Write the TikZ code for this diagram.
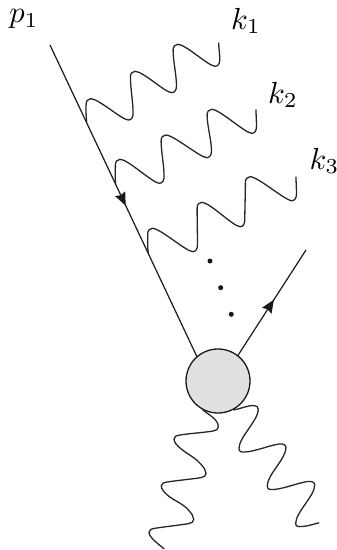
\documentclass[tikz,border=0pt]{standalone}
\usetikzlibrary{arrows.meta,decorations.markings}
\tikzset{
  ln/.style={line width=1.2pt,black!90},
  wv/.style={line width=1.3pt,black!85,line join=round},
  lbl/.style={scale=3.05,inner sep=0pt},
  dotmark/.style={circle,fill=black!90,inner sep=0pt,minimum size=5pt},
  blobnode/.style={circle,draw=black!90,line width=1.3pt,fill=black!12,minimum size=64pt,inner sep=0pt,outer sep=0pt},
  midarrow/.style={postaction={decorate},decoration={markings,mark=at position #1 with {\arrow{Stealth[length=13pt,width=11pt,inset=1.5pt]}}}}
}
% crest -> trough
\newcommand{\ct}[1]{.. controls +(8,0) and +(-7,-0.5) .. (#1)}
% trough -> crest (round turn, steep rise, round turn)
\newcommand{\tc}[2]{.. controls +(3.4,0) and +(0,4) .. ([shift={(4.8,-7)}]#1)
  .. controls +(0,-10) and +(0,10) .. ([shift={(-4.6,6)}]#2)
  .. controls +(0,-3.6) and +(-3,0) .. (#2)}
% upper photon: start, three crests, three troughs, end
\newcommand{\upwave}[8]{\draw[wv] (#1) .. controls +(-0.8,-4) and +(0,5) .. ([shift={(-4.6,6)}]#2)
  .. controls +(0,-3.6) and +(-3,0) .. (#2)
  \ct{#3} \tc{#3}{#4} \ct{#5} \tc{#5}{#6} \ct{#7}
  .. controls +(3.4,0) and +(0,4) .. ([shift={(4.8,-7)}]#7)
  .. controls +(0,-6) and +(0,6) .. (#8);}
% lower-left photon: right turn -> left turn
\newcommand{\lw}[2]{.. controls +(0,3) and +(3,-0.9) .. ([shift={(-5,4.3)}]#1)
  .. controls +(-9,1.5) and +(9,-1.5) .. ([shift={(6,-4)}]#2)
  .. controls +(-3.5,0.7) and +(0,-3) .. (#2)}
% lower-left photon: left turn -> next right turn
\newcommand{\ld}[2]{.. controls +(0,3) and +(-3,-2.5) .. ([shift={(6,9)}]#1)
  .. controls +(7,6) and +(-6,-7) .. ([shift={(-5,-9)}]#2)
  .. controls +(3,3.5) and +(0,-3) .. (#2)}
\begin{document}
\begin{tikzpicture}[x=1pt,y=-1pt]
\useasboundingbox (0,0) rectangle (337,550);
\node[blobnode] (blob) at (218,381) {};
\coordinate (pin) at (50,45);
\coordinate (pout) at (306,250);
\draw[ln,midarrow=0.515] (pin) -- (blob.131);
\draw[ln,midarrow=0.53] (blob.52) -- (pout);
\node[lbl] (lp) at (24,19) {$p_1$};
\node[lbl] (lk1) at (246,21) {$k_1$};
\node[lbl] (lk2) at (283,95) {$k_2$};
\node[lbl] (lk3) at (324.5,161) {$k_3$};
\node[dotmark] (d1) at (210,261) {};
\node[dotmark] (d2) at (220.7,287.7) {};
\node[dotmark] (d3) at (231.3,314.3) {};
\upwave{86.7,121.7}{90.7,98.7}{128.3,120}{135,71.3}{171.7,92.7}{177.7,44.3}{215,66.3}{218.7,42.7}
\upwave{115.7,183.3}{120,159.3}{159.3,183.3}{165.7,135}{206.7,157.7}{211.7,109.3}{251.7,133.3}{256,109.3}
\upwave{148.3,253.3}{152.3,228.3}{192.7,251.7}{201.7,202.3}{240,226.7}{250,176.7}{291.7,200.7}{296,176.7}
\draw[wv] (202.3,409.3) .. controls +(5,5) and +(0,-8) .. (218.3,426.7)
  \lw{218.3,426.7}{174,439}
  \ld{174,439}{206,473.3}
  \lw{206,473.3}{161.3,486}
  \ld{161.3,486}{193.7,519.3}
  \lw{193.7,519.3}{149,532.3}
  .. controls +(0,5) and +(-6,-5) .. (164.3,549);
\draw[wv] (233.3,410) .. controls +(10,-2) and +(-6,0) .. (253.5,405.5)
  .. controls +(3,0) and +(0,-2.5) .. (258.3,409.3)
  .. controls +(0,11) and +(0,-11) .. (239,448.3)
  .. controls +(0,3.5) and +(-4,0.3) .. (245,452)
  .. controls +(10,-0.5) and +(-10,1.5) .. (279,444)
  .. controls +(4,-0.5) and +(0,-3) .. (286,447.7)
  .. controls +(0,11) and +(0,-11) .. (267.3,485.7)
  .. controls +(0,3.5) and +(-4,0.3) .. (273.3,489.5)
  .. controls +(10,-0.5) and +(-10,1.5) .. (307.5,481.5)
  .. controls +(4,-0.5) and +(0,-3) .. (314.7,485)
  .. controls +(0,11) and +(0,-11) .. (295.7,523.3)
  .. controls +(0,3.5) and +(-4,0.3) .. (302,526.5)
  .. controls +(6,-0.3) and +(-6,1.5) .. (319.3,522.7);
\end{tikzpicture}
\end{document}
